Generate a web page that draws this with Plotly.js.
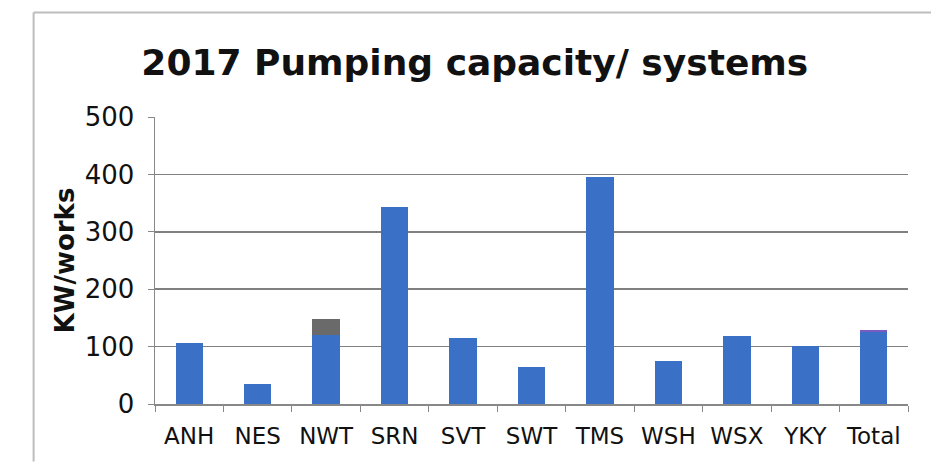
<!DOCTYPE html>
<html>
<head>
<meta charset="utf-8">
<script src="https://cdn.plot.ly/plotly-3.0.1.min.js"></script>
<style>
  body { margin: 0; background: #fff; }
  #chart { width: 931px; height: 462px; }
</style>
</head>
<body>
<div id="chart"></div>
<script>
var companies = ['ANH', 'NES', 'NWT', 'SRN', 'SVT', 'SWT', 'TMS', 'WSH', 'WSX', 'YKY', 'Total'];
var kwPerWorks = [106, 35, 120, 343, 115, 64, 395, 75, 118, 101, 126];
var topSlice = [0, 0, 28, 0, 0, 0, 0, 0, 0, 0, 3];
var topColors = ['#3a70c6', '#3a70c6', '#6a6a6a', '#3a70c6', '#3a70c6', '#3a70c6',
                 '#3a70c6', '#3a70c6', '#3a70c6', '#3a70c6', '#7a5cc0'];

var baseBars = {
  x: companies,
  y: kwPerWorks,
  type: 'bar',
  width: 0.4,
  marker: { color: '#3a70c6' },
  hoverinfo: 'x+y'
};

var topBars = {
  x: companies,
  y: topSlice,
  type: 'bar',
  width: 0.4,
  marker: { color: topColors },
  hoverinfo: 'x+y'
};

var layout = {
  width: 931,
  height: 462,
  barmode: 'stack',
  showlegend: false,
  paper_bgcolor: '#fff',
  plot_bgcolor: '#fff',
  margin: { l: 155, r: 23, t: 117, b: 58 },
  font: { family: 'DejaVu Sans, Verdana, sans-serif', color: '#111', size: 24 },
  title: {
    text: '<b>2017 Pumping capacity/ systems</b>',
    font: { size: 36, color: '#111' },
    x: 0.51, xanchor: 'center',
    y: 0.865, yanchor: 'middle'
  },
  xaxis: {
    type: 'category',
    tickson: 'boundaries',
    ticks: 'outside',
    ticklen: 6,
    tickcolor: '#888',
    showline: true,
    linecolor: '#888',
    linewidth: 1.5,
    showgrid: false,
    tickfont: { size: 23 },
    ticklabelstandoff: 11
  },
  yaxis: {
    range: [0, 500],
    tickvals: [0, 100, 200, 300, 400, 500],
    ticks: 'outside',
    ticklen: 6,
    tickcolor: '#888',
    showline: true,
    linecolor: '#888',
    linewidth: 1.5,
    gridcolor: '#808080',
    gridwidth: 1.5,
    zeroline: false,
    tickfont: { size: 26 },
    ticklabelstandoff: 8,
    title: { text: '<b>KW/works</b>', font: { size: 26 }, standoff: 2 }
  },
  shapes: [
    { type: 'line', xref: 'paper', yref: 'paper', x0: -0.1612, x1: 1.05, y0: 1.364, y1: 1.364,
      line: { color: '#bdbdbd', width: 2 } },
    { type: 'line', xref: 'paper', yref: 'paper', x0: -0.1612, x1: -0.1612, y0: 1.364, y1: -0.2,
      line: { color: '#bdbdbd', width: 2 } }
  ]
};

Plotly.newPlot('chart', [baseBars, topBars], layout, { displayModeBar: false, staticPlot: true });
</script>
</body>
</html>
